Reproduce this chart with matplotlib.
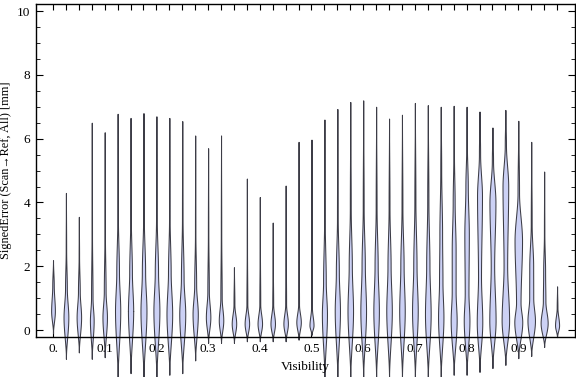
import numpy as np
import matplotlib
matplotlib.use('Agg')
import matplotlib.pyplot as plt

plt.rcParams['font.family'] = ['Liberation Serif', 'DejaVu Serif']

# visibility bins (violin centres)
visibility = [0.0, 0.025, 0.05, 0.075, 0.1, 0.125, 0.15, 0.175, 0.2, 0.225,
              0.25, 0.275, 0.3, 0.325, 0.35, 0.375, 0.4, 0.425, 0.45, 0.475,
              0.5, 0.525, 0.55, 0.575, 0.6, 0.625, 0.65, 0.675, 0.7, 0.725,
              0.75, 0.775, 0.8, 0.825, 0.85, 0.875, 0.9, 0.925, 0.95, 0.975]

# min / max signed error of each bin [mm]
err_min = [-0.1, -0.9, -0.7, -0.9, -0.85, -1.55, -1.35, -1.55, -1.55, -1.4,
           -1.35, -0.95, -0.4, -0.4, -0.4, -0.35, -0.35, -0.35, -0.35, -0.3,
           -0.15, -1.55, -1.55, -1.55, -1.55, -1.55, -1.55, -1.55, -1.55, -1.55,
           -1.5, -1.4, -1.4, -1.31, -1.19, -1.09, -0.88, -0.81, -0.53, -0.22]
err_max = [2.19, 4.3, 3.55, 6.5, 6.2, 6.78, 6.65, 6.8, 6.7, 6.65,
           6.55, 6.1, 5.7, 6.1, 1.97, 4.75, 4.17, 3.37, 4.53, 5.9,
           5.97, 6.6, 6.93, 7.15, 7.2, 7.0, 6.63, 6.75, 7.12, 7.05,
           7.0, 7.03, 7.0, 6.85, 6.35, 6.9, 6.56, 5.9, 4.97, 1.37]

# density profile of each bin: (error, relative density)
density = [
    [(0.6, 2.5), (1.4, 1.0)],
    [(0.4, 3.2), (1.3, 1.2), (2.5, 0.3)],
    [(0.4, 3.0), (1.2, 1.2), (2.3, 0.3)],
    [(0.3, 2.5), (1.0, 1.0), (3.0, 0.3)],
    [(0.4, 3.0), (1.2, 1.2), (3.0, 0.3)],
    [(0.6, 3.5), (1.8, 1.8), (3.5, 0.4)],
    [(0.6, 3.5), (1.8, 1.8), (3.5, 0.4)],
    [(0.6, 4.0), (1.8, 2.2), (3.5, 0.5)],
    [(0.6, 4.0), (1.8, 2.2), (3.5, 0.5)],
    [(0.5, 3.8), (1.8, 1.8), (3.5, 0.4)],
    [(0.5, 4.0), (1.6, 1.8), (3.5, 0.4)],
    [(0.5, 3.5), (1.4, 1.3), (3.0, 0.3)],
    [(0.4, 3.0), (1.2, 1.0), (3.0, 0.3)],
    [(0.3, 3.0), (1.0, 0.9), (3.0, 0.3)],
    [(0.2, 3.0), (0.8, 0.6)],
    [(0.2, 3.0), (0.8, 0.6), (2.5, 0.2)],
    [(0.2, 3.0), (0.8, 0.6), (2.5, 0.2)],
    [(0.2, 3.0), (0.8, 0.6), (2.0, 0.2)],
    [(0.2, 3.0), (0.8, 0.6), (2.5, 0.2)],
    [(0.25, 3.0), (0.8, 0.6), (2.5, 0.2)],
    [(0.15, 2.7), (0.7, 0.6), (2.5, 0.2)],
    [(0.5, 3.4), (1.5, 1.8), (3.5, 0.4)],
    [(0.6, 3.5), (1.8, 2.0), (3.5, 0.5)],
    [(0.6, 3.7), (2.0, 2.1), (3.8, 0.6)],
    [(0.6, 3.8), (2.0, 2.2), (3.8, 0.6)],
    [(0.6, 3.7), (2.0, 2.1), (3.8, 0.6)],
    [(0.6, 3.7), (2.0, 2.1), (3.8, 0.6)],
    [(0.6, 3.7), (2.0, 2.2), (3.8, 0.6)],
    [(0.6, 3.8), (2.0, 2.2), (4.0, 0.7)],
    [(0.5, 3.8), (2.0, 2.2), (4.0, 0.8)],
    [(0.4, 3.6), (1.5, 2.3), (3.0, 1.8), (5.0, 0.6)],
    [(0.3, 4.0), (1.2, 2.6), (2.5, 2.6), (4.0, 1.3), (5.5, 0.4)],
    [(0.3, 3.8), (1.15, 2.5), (3.0, 3.0), (4.5, 1.6), (5.8, 0.4)],
    [(0.25, 3.7), (1.65, 2.0), (4.2, 3.3), (5.5, 0.8)],
    [(0.3, 4.2), (2.0, 2.3), (4.0, 4.0), (5.3, 0.8)],
    [(0.3, 5.0), (2.0, 2.4), (4.5, 3.8), (5.8, 0.8)],
    [(0.25, 5.3), (0.85, 3.0), (2.8, 5.0), (4.3, 1.0)],
    [(0.3, 5.0), (1.0, 2.7), (2.0, 2.6), (3.3, 0.6)],
    [(0.22, 4.7), (0.9, 1.7), (1.8, 1.3), (3.0, 0.3)],
    [(0.15, 2.7), (0.7, 0.5)],
]

fill_color = (0.80, 0.82, 0.96)
edge_color = '#3c3c46'
width_scale = 0.00145   # density unit -> visibility units

fig = plt.figure(figsize=(5.76, 3.77), dpi=100)
ax = fig.add_axes([36 / 576, 0.0, 539 / 576, 373 / 377])

for x, lo, hi, prof in zip(visibility, err_min, err_max, density):
    knots = [(lo, 0.0)] + prof + [(hi, 0.0)]
    ys = []
    ws = []
    for (y0, w0), (y1, w1) in zip(knots[:-1], knots[1:]):
        t = np.linspace(0, 1, 30)
        s = 3 * t ** 2 - 2 * t ** 3
        ys.append(y0 + (y1 - y0) * t)
        ws.append(w0 + (w1 - w0) * s)
    ys = np.concatenate(ys)
    ws = np.concatenate(ws) * width_scale
    ax.fill_betweenx(ys, x - ws, x + ws, facecolor=fill_color,
                     edgecolor=edge_color, linewidth=0.75, zorder=2)

axis_y = -0.22
ax.set_xlim(-0.0329, 1.0097)
ax.set_ylim(-1.47, 10.22)

ax.spines['bottom'].set_position(('data', axis_y))
ax.spines['left'].set_bounds(axis_y, 10.22)
ax.spines['right'].set_bounds(axis_y, 10.22)
for sp in ax.spines.values():
    sp.set_linewidth(1.0)
    sp.set_zorder(3)

ax.set_xticks(visibility)
xlabels = []
for i, v in enumerate(visibility):
    if i % 4 == 0:
        xlabels.append('0.' if v == 0 else '%.1f' % v)
    else:
        xlabels.append('')
ax.set_xticklabels(xlabels)
ax.set_yticks([0, 2, 4, 6, 8, 10])
ax.set_yticks(np.arange(0, 10.5, 0.5), minor=True)

ax.tick_params(axis='x', direction='in', length=4, width=0.8, top=True,
               labelsize=9.5, pad=4)
ax.tick_params(axis='y', which='major', direction='in', length=5, width=0.8,
               right=True, labelsize=9.5, pad=4)
ax.tick_params(axis='y', which='minor', direction='in', length=2.7,
               width=0.6, right=True)

ax.text(0.5, 0.01, 'Visibility', transform=ax.transAxes, ha='center',
        va='bottom', fontsize=9.5)
ax.set_ylabel('SignedError (Scan\u2192Ref, All) [mm]', fontsize=8.8)
ax.yaxis.set_label_coords(-0.044, 0.555)

fig.savefig('out.png', dpi=100)
